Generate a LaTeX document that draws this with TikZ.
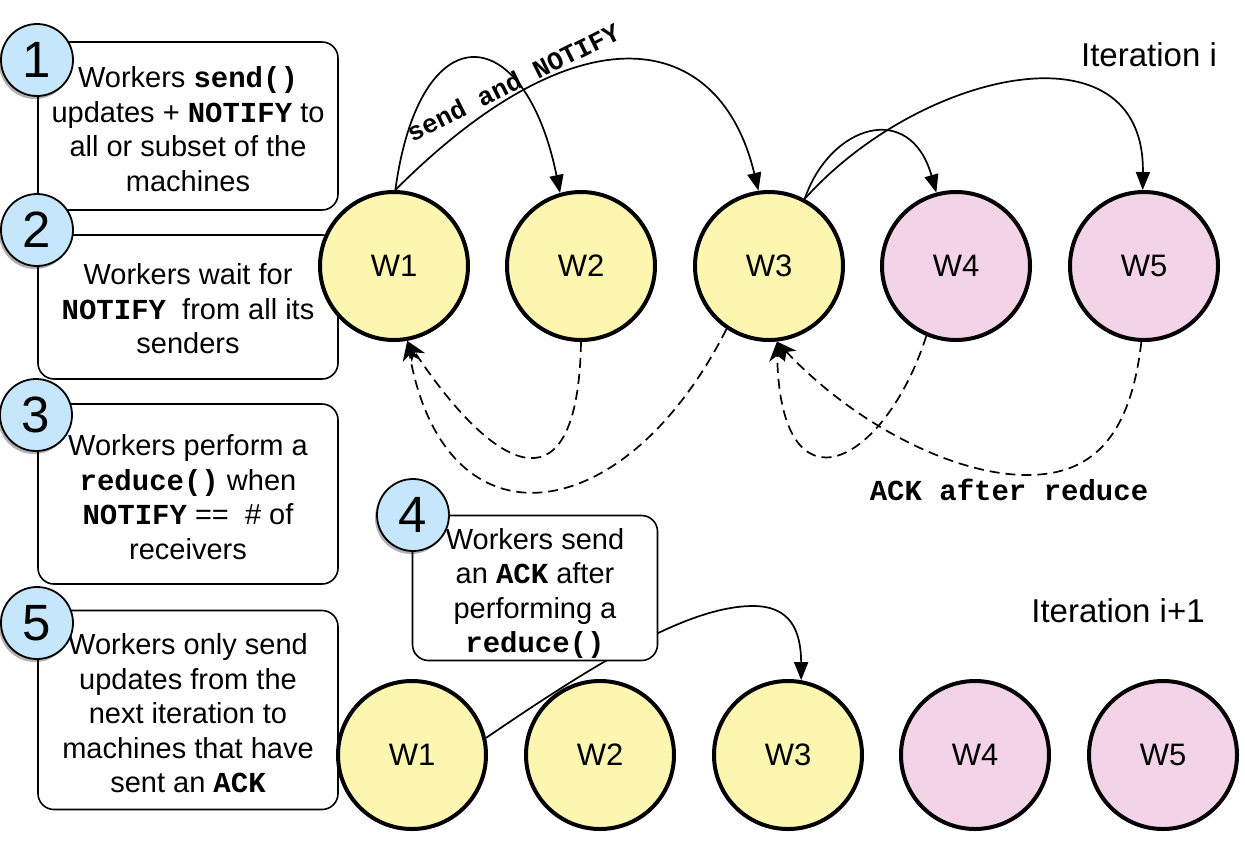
\documentclass[tikz,border=0pt]{standalone}
\usepackage{fontspec}
\setmainfont{Liberation Sans}
\setmonofont{Liberation Mono}
\usetikzlibrary{arrows.meta,shadows}
\definecolor{wyellow}{HTML}{FCF6B1}
\definecolor{wpink}{HTML}{F3D3E8}
\definecolor{nblue}{HTML}{C6E7FB}
\newcommand{\cd}[1]{\textbf{\ttfamily #1}}
\newcommand{\tup}[1]{\rule{0pt}{#1}}
\begin{document}
\begin{tikzpicture}[x=1pt,y=-1pt,
  worker/.style={circle, draw, line width=4pt, minimum size=148pt, inner sep=0pt,
    font=\fontsize{31}{36}\selectfont},
  ylw/.style={worker, fill=wyellow},
  pnk/.style={worker, fill=wpink},
  stepbox/.style={draw, line width=1.6pt, rounded corners=16pt, fill=white, align=center,
    inner sep=0pt, font=\fontsize{29}{34.5}\selectfont},
  num/.style={circle, draw, line width=1.8pt, fill=nblue, minimum size=72pt, inner sep=0pt,
    font=\fontsize{51}{51}\selectfont,
    drop shadow={shadow xshift=-2pt, shadow yshift=-3pt, opacity=0.3, fill=black}},
  sendarrow/.style={line width=1.7pt, -{Triangle[length=18pt,width=14pt]}},
  ackarrow/.style={line width=1.7pt, dash pattern=on 10pt off 6pt,
    -{Stealth[length=20pt,width=16pt,inset=6pt]}},
  codelbl/.style={font=\fontsize{29}{29}\selectfont\bfseries\ttfamily, inner sep=0pt},
  iterlbl/.style={font=\fontsize{33}{33}\selectfont, inner sep=0pt}
]
\useasboundingbox (0,0) rectangle (1245,863);

% step boxes
\node[stepbox, minimum width=300pt, minimum height=168pt] (b1) at (188,126)
  {\tup{27pt}Workers \cd{send()}\\updates + \cd{NOTIFY} to\\all or subset of the\\machines};
\node[stepbox, minimum width=300pt, minimum height=144pt] (b2) at (188,307)
  {\tup{25pt}Workers wait for\\\cd{NOTIFY}\ \ from all its\\senders};
\node[stepbox, minimum width=300pt, minimum height=180pt] (b3) at (188,494)
  {\tup{27pt}Workers perform a\\\cd{reduce()}\ when\\\cd{NOTIFY} ==\ \ \# of\\receivers};
\node[stepbox, minimum width=300pt, minimum height=199pt] (b5) at (188,710)
  {\tup{28pt}Workers only send\\updates from the\\next iteration to\\machines that have\\sent an \cd{ACK}};

% workers, iteration i
\node[ylw] (w1) at (394,266) {W1};
\node[ylw] (w2) at (581,266) {W2};
\node[ylw] (w3) at (769,266) {W3};
\node[pnk] (w4) at (956,266) {W4};
\node[pnk] (w5) at (1144,266) {W5};

% workers, iteration i+1
\node[ylw] (v1) at (412,755) {W1};
\node[ylw] (v2) at (600,755) {W2};
\node[ylw] (v3) at (788,755) {W3};
\node[pnk] (v4) at (975,755) {W4};
\node[pnk] (v5) at (1163,755) {W5};

% send arrows
\draw[sendarrow] (w1.89) .. controls (420,10) and (525,20) .. (w2.106);
\draw[sendarrow] (w1.89) .. controls (580,5) and (720,30) .. (w3.98);
\draw[sendarrow] (w3.62) .. controls (830,125) and (910,100) .. (w4.105);
\draw[sendarrow] (w3.62) .. controls (920,70) and (1145,20) .. (w5.91);

% ack arrows
\draw[ackarrow] (w2.-90) .. controls (578,510) and (500,480) .. (w1.-80);
\draw[ackarrow] (w3.-124) .. controls (625,530) and (445,555) .. (w1.-80);
\draw[ackarrow] (w4.-113) .. controls (885,465) and (780,520) .. (w3.-84);
\draw[ackarrow] (w5.-92) .. controls (1130,440) and (1090,475) .. (1027,475)
  .. controls (950,475) and (850,420) .. (w3.-84);

% next iteration arrow (passes behind box 4)
\draw[sendarrow] (v1.13) .. controls (600,660) and (690,606) .. (753,606)
  .. controls (790,606) and (801,630) .. (v3.80);

% box 4
\node[stepbox, minimum width=245pt, minimum height=145pt] (b4) at (535,588)
  {\tup{32pt}Workers send\\an \cd{ACK} after\\performing a\\\cd{reduce()}};

% step numbers
\node[num] (n1) at (37,60) {1};
\node[num] (n2) at (37,230) {2};
\node[num] (n3) at (36,415) {3};
\node[num] (n4) at (413,515) {4};
\node[num] (n5) at (37,623) {5};

% labels
\node[codelbl, rotate=26.5, font=\fontsize{26}{26}\selectfont\bfseries\ttfamily] (sl) at (513,82) {send and NOTIFY};
\node[codelbl] (al) at (1009,490) {ACK after reduce};
\node[iterlbl] (it1) at (1149,55) {Iteration i};
\node[iterlbl] (it2) at (1118,611) {Iteration i+1};
\end{tikzpicture}
\end{document}
